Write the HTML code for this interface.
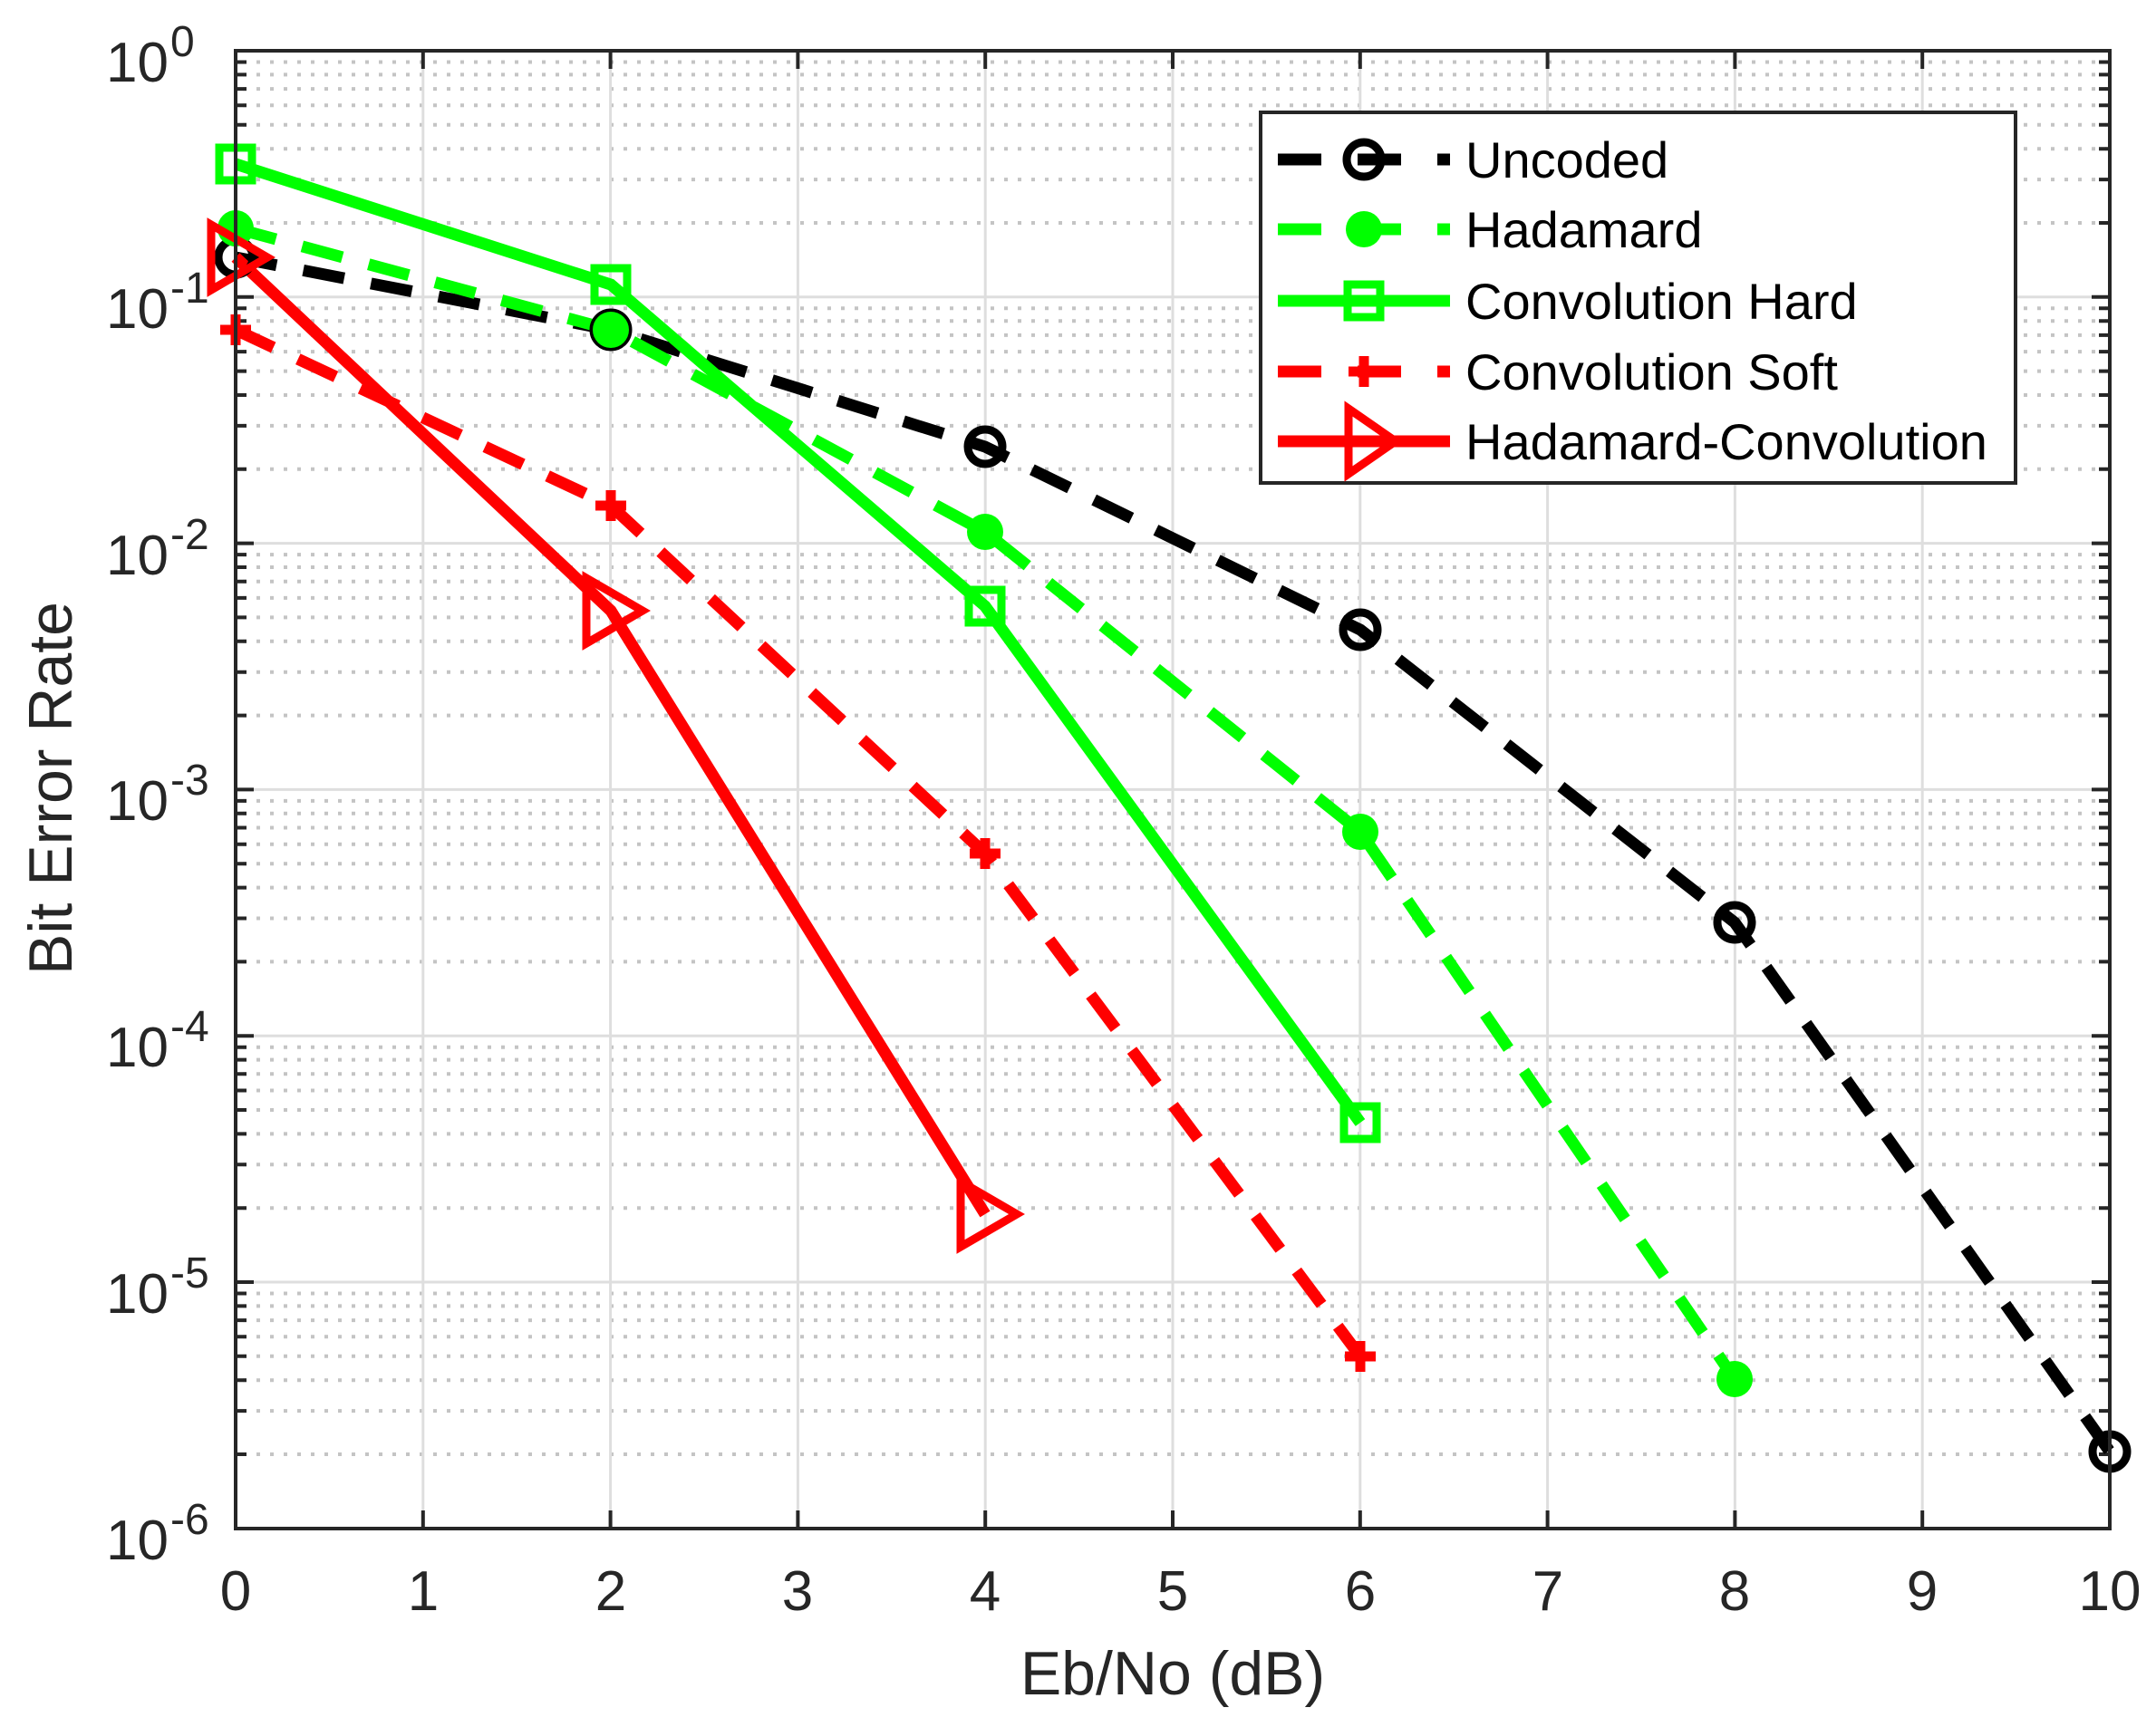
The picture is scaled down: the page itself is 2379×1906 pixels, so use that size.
<!DOCTYPE html>
<html><head><meta charset="utf-8"><style>
html,body{margin:0;padding:0;background:#fff;}
svg{display:block;font-family:"Liberation Sans",Arial,sans-serif;}
</style></head><body>
<svg width="2379" height="1906" viewBox="0 0 2379 1906" xmlns="http://www.w3.org/2000/svg">
<rect width="2379" height="1906" fill="#fff"/>
<g stroke="#c4c4c4" stroke-width="4" stroke-dasharray="4 11" fill="none">
<path d="M268 246H2324M268 198.1H2324M268 164.2H2324M268 137.8H2324M268 116.3H2324M268 98.1H2324M268 82.4H2324M268 68.5H2324
M268 517.8H2324M268 469.9H2324M268 436H2324M268 409.6H2324M268 388.1H2324M268 369.9H2324M268 354.2H2324M268 340.3H2324
M268 789.6H2324M268 741.7H2324M268 707.8H2324M268 681.4H2324M268 659.9H2324M268 641.7H2324M268 626H2324M268 612.1H2324
M268 1061.4H2324M268 1013.5H2324M268 979.6H2324M268 953.2H2324M268 931.7H2324M268 913.5H2324M268 897.8H2324M268 883.9H2324
M268 1333.2H2324M268 1285.3H2324M268 1251.4H2324M268 1225H2324M268 1203.5H2324M268 1185.3H2324M268 1169.6H2324M268 1155.7H2324
M268 1605H2324M268 1557.1H2324M268 1523.2H2324M268 1496.8H2324M268 1475.3H2324M268 1457.1H2324M268 1441.4H2324M268 1427.5H2324"/>
</g>
<g stroke="#dedede" stroke-width="3" fill="none">
<path d="M466.8 56V1687M673.6 56V1687M880.4 56V1687M1087.2 56V1687M1294 56V1687M1500.8 56V1687M1707.6 56V1687M1914.4 56V1687M2121.2 56V1687
M260 327.8H2328M260 599.6H2328M260 871.4H2328M260 1143.2H2328M260 1415H2328"/>
</g>
<g stroke="#262626" stroke-width="4" fill="none">
<path d="M466.8 1687v-20M673.6 1687v-20M880.4 1687v-20M1087.2 1687v-20M1294 1687v-20M1500.8 1687v-20M1707.6 1687v-20M1914.4 1687v-20M2121.2 1687v-20
M466.8 56v20M673.6 56v20M880.4 56v20M1087.2 56v20M1294 56v20M1500.8 56v20M1707.6 56v20M1914.4 56v20M2121.2 56v20
M260 327.8h20M260 599.6h20M260 871.4h20M260 1143.2h20M260 1415h20
M2328 327.8h-20M2328 599.6h-20M2328 871.4h-20M2328 1143.2h-20M2328 1415h-20"/>
<path d="M260 246h12M260 198.1h12M260 164.2h12M260 137.8h12M260 116.3h12M260 98.1h12M260 82.4h12M260 68.5h12
M260 517.8h12M260 469.9h12M260 436h12M260 409.6h12M260 388.1h12M260 369.9h12M260 354.2h12M260 340.3h12
M260 789.6h12M260 741.7h12M260 707.8h12M260 681.4h12M260 659.9h12M260 641.7h12M260 626h12M260 612.1h12
M260 1061.4h12M260 1013.5h12M260 979.6h12M260 953.2h12M260 931.7h12M260 913.5h12M260 897.8h12M260 883.9h12
M260 1333.2h12M260 1285.3h12M260 1251.4h12M260 1225h12M260 1203.5h12M260 1185.3h12M260 1169.6h12M260 1155.7h12
M260 1605h12M260 1557.1h12M260 1523.2h12M260 1496.8h12M260 1475.3h12M260 1457.1h12M260 1441.4h12M260 1427.5h12"/>
<path d="M2328 246h-12M2328 198.1h-12M2328 164.2h-12M2328 137.8h-12M2328 116.3h-12M2328 98.1h-12M2328 82.4h-12M2328 68.5h-12
M2328 517.8h-12M2328 469.9h-12M2328 436h-12M2328 409.6h-12M2328 388.1h-12M2328 369.9h-12M2328 354.2h-12M2328 340.3h-12
M2328 789.6h-12M2328 741.7h-12M2328 707.8h-12M2328 681.4h-12M2328 659.9h-12M2328 641.7h-12M2328 626h-12M2328 612.1h-12
M2328 1061.4h-12M2328 1013.5h-12M2328 979.6h-12M2328 953.2h-12M2328 931.7h-12M2328 913.5h-12M2328 897.8h-12M2328 883.9h-12
M2328 1333.2h-12M2328 1285.3h-12M2328 1251.4h-12M2328 1225h-12M2328 1203.5h-12M2328 1185.3h-12M2328 1169.6h-12M2328 1155.7h-12
M2328 1605h-12M2328 1557.1h-12M2328 1523.2h-12M2328 1496.8h-12M2328 1475.3h-12M2328 1457.1h-12M2328 1441.4h-12M2328 1427.5h-12"/>
</g>
<g fill="none" stroke-width="13" stroke-linejoin="miter">
<polyline stroke="#000" stroke-dasharray="46 30" points="260,284 674,364 1087,493 1501,695 1914,1018 2328,1602"/>
<polyline stroke="#00ff00" stroke-dasharray="46 30" points="260,252 674,364 1087,587 1501,918 1914,1522"/>
<polyline stroke="#00ff00" points="260,181 674,314 1087,669 1501,1239"/>
<polyline stroke="#ff0000" stroke-dasharray="46 30" points="260,364 674,558 1087,942 1501,1497"/>
<polyline stroke="#ff0000" points="260,284 674,674 1087,1340"/>
</g>
<g fill="none" stroke="#000" stroke-width="9">
<circle cx="260" cy="284" r="19"/><circle cx="674" cy="364" r="19"/><circle cx="1087" cy="493" r="19"/><circle cx="1501" cy="695" r="19"/><circle cx="1914" cy="1018" r="19"/><circle cx="2328" cy="1602" r="19"/>
</g>
<g fill="#00ff00">
<circle cx="260" cy="252" r="20"/><circle cx="674" cy="364" r="20"/><circle cx="1087" cy="587" r="20"/><circle cx="1501" cy="918" r="20"/><circle cx="1914" cy="1522" r="20"/>
</g>
<g fill="none" stroke="#00ff00" stroke-width="9">
<rect x="242" y="163" width="36" height="36"/><rect x="656" y="296" width="36" height="36"/><rect x="1069" y="651" width="36" height="36"/><rect x="1483" y="1221" width="36" height="36"/>
</g>
<g stroke="#ff0000" stroke-width="11">
<path d="M243 364h34M260 347v34M657 558h34M674 541v34M1070 942h34M1087 925v34M1484 1497h34M1501 1480v34"/>
</g>
<g fill="none" stroke="#ff0000" stroke-width="9">
<polygon points="233,248 295,284 233,320"/><polygon points="647,638 709,674 647,710"/><polygon points="1060,1304 1122,1340 1060,1376"/>
</g>
<rect x="260" y="56" width="2068" height="1631" fill="none" stroke="#262626" stroke-width="4"/>
<rect x="1391" y="124" width="833" height="409" fill="#fff" stroke="#262626" stroke-width="4"/>
<g fill="none" stroke-width="13">
<path d="M1410 176H1600" stroke="#000" stroke-dasharray="48 40"/>
<path d="M1410 253H1600" stroke="#00ff00" stroke-dasharray="48 40"/>
<path d="M1410 332H1600" stroke="#00ff00"/>
<path d="M1410 410H1600" stroke="#ff0000" stroke-dasharray="48 40"/>
<path d="M1410 487H1600" stroke="#ff0000"/>
</g>
<circle cx="1505" cy="176" r="19" fill="none" stroke="#000" stroke-width="9"/>
<circle cx="1505" cy="253" r="20" fill="#00ff00"/>
<rect x="1487" y="314" width="36" height="36" fill="none" stroke="#00ff00" stroke-width="9"/>
<path d="M1488 410h34M1505 393v34" stroke="#ff0000" stroke-width="11"/>
<polygon points="1488,451 1540,487 1488,523" fill="none" stroke="#ff0000" stroke-width="9"/>
<g font-size="56" fill="#000">
<text x="1617" y="196">Uncoded</text>
<text x="1617" y="273">Hadamard</text>
<text x="1617" y="352">Convolution Hard</text>
<text x="1617" y="430">Convolution Soft</text>
<text x="1617" y="507">Hadamard-Convolution</text>
</g>
<g font-size="62" fill="#262626" text-anchor="middle">
<text x="260" y="1777">0</text><text x="467" y="1777">1</text><text x="674" y="1777">2</text><text x="880" y="1777">3</text><text x="1087" y="1777">4</text><text x="1294" y="1777">5</text><text x="1501" y="1777">6</text><text x="1708" y="1777">7</text><text x="1914" y="1777">8</text><text x="2121" y="1777">9</text><text x="2328" y="1777">10</text>
</g>
<g fill="#262626">
<g font-size="62" text-anchor="end">
<text x="186" y="90">10</text><text x="186" y="362">10</text><text x="186" y="634">10</text><text x="186" y="905">10</text><text x="186" y="1177">10</text><text x="186" y="1449">10</text><text x="186" y="1721">10</text>
</g>
<g font-size="48">
<text x="188" y="62">0</text><text x="188" y="334">-1</text><text x="188" y="606">-2</text><text x="188" y="877">-3</text><text x="188" y="1149">-4</text><text x="188" y="1421">-5</text><text x="188" y="1693">-6</text>
</g>
</g>
<text x="1294" y="1870" font-size="68" fill="#262626" text-anchor="middle">Eb/No (dB)</text>
<text transform="translate(79,870) rotate(-90)" font-size="68" fill="#262626" text-anchor="middle">Bit Error Rate</text>
</svg>
</body></html>
